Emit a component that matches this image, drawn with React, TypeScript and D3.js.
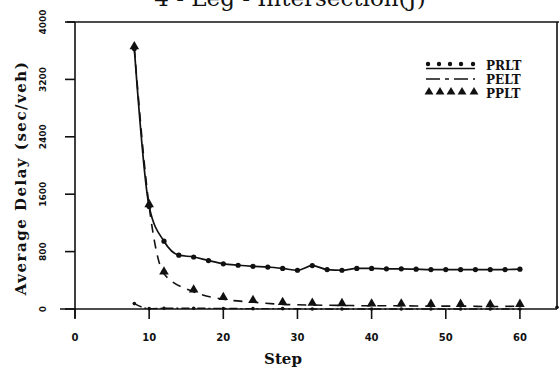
import React, { useEffect, useRef } from 'react'
import * as d3 from 'd3'

// PRLT: solid line with dots
const prltSteps = [8, 10, 12, 14, 16, 18, 20, 22, 24, 26, 28, 30, 32, 34, 36, 38, 40, 42, 44, 46, 48, 50, 52, 54, 56, 58, 60]
const prltDelay = [3630, 1430, 945, 750, 725, 675, 630, 610, 595, 585, 565, 540, 605, 550, 540, 565, 565, 560, 560, 555, 550, 550, 550, 550, 550, 550, 555]

// PELT: dash-dot line close to zero
const peltSteps = [8, 10, 12, 16, 20, 24, 28, 32, 36, 40, 44, 48, 52, 56, 60, 65]
const peltDelay = [75, 5, 10, 10, 8, 5, 5, 0, 0, 0, 0, 0, 0, 0, 0, 25]

// PPLT: dashed line with triangles
const ppltSteps = [8, 10, 12, 16, 20, 24, 28, 32, 36, 40, 44, 48, 52, 56, 60]
const ppltDelay = [3630, 1430, 490, 240, 135, 95, 65, 55, 50, 45, 45, 40, 40, 35, 40]

const xTicks = [0, 10, 20, 30, 40, 50, 60]
const yTicks = [0, 800, 1600, 2400, 3200, 4000]
const seriesNames = ['PRLT', 'PELT', 'PPLT']

const ink = '#111'

export default function App() {
  const svgRef = useRef<SVGSVGElement>(null)

  useEffect(() => {
    if (!svgRef.current) return
    const svg = d3.select(svgRef.current)
    svg.selectAll('*').remove()

    const left = 75
    const right = 557
    const top = 22
    const bottom = 309

    const x = d3.scaleLinear().domain([0, 65]).range([left, right])
    const y = d3.scaleLinear().domain([0, 4000]).range([bottom, top])

    // title (cut off at the top in the scan)
    svg
      .append('text')
      .attr('x', 290)
      .attr('y', 6)
      .attr('text-anchor', 'middle')
      .style('font-family', '"DejaVu Serif", serif')
      .style('font-size', '23px')
      .style('fill', ink)
      .text('4 - Leg - Intersection(J)')

    // frame
    svg
      .append('line')
      .attr('x1', left - 8)
      .attr('x2', 559)
      .attr('y1', top)
      .attr('y2', top)
      .attr('stroke', ink)
      .attr('stroke-width', 1.6)
    svg
      .append('line')
      .attr('x1', right)
      .attr('x2', right)
      .attr('y1', top)
      .attr('y2', bottom)
      .attr('stroke', ink)
      .attr('stroke-width', 1.6)
    svg
      .append('line')
      .attr('x1', left - 15)
      .attr('x2', right)
      .attr('y1', bottom)
      .attr('y2', bottom)
      .attr('stroke', ink)
      .attr('stroke-width', 1.6)
    svg
      .append('line')
      .attr('x1', left)
      .attr('x2', left)
      .attr('y1', top)
      .attr('y2', bottom + 9)
      .attr('stroke', ink)
      .attr('stroke-width', 1.6)

    // x ticks
    const xt = svg.append('g')
    xt.selectAll('line')
      .data(xTicks)
      .join('line')
      .attr('x1', (d) => x(d))
      .attr('x2', (d) => x(d))
      .attr('y1', bottom)
      .attr('y2', bottom + 10)
      .attr('stroke', ink)
      .attr('stroke-width', 1.6)
    xt.selectAll('text')
      .data(xTicks)
      .join('text')
      .attr('x', (d) => x(d))
      .attr('y', 341)
      .attr('text-anchor', 'middle')
      .style('font-family', '"DejaVu Sans", sans-serif')
      .style('font-weight', '700')
      .style('font-size', '10px')
      .style('fill', ink)
      .text((d) => d)

    // y ticks
    const yt = svg.append('g')
    yt.selectAll('line')
      .data(yTicks)
      .join('line')
      .attr('x1', left - 10)
      .attr('x2', left)
      .attr('y1', (d) => y(d))
      .attr('y2', (d) => y(d))
      .attr('stroke', ink)
      .attr('stroke-width', 1.6)
    yt.selectAll('text')
      .data(yTicks)
      .join('text')
      .attr('transform', (d) => `translate(46,${y(d)}) rotate(-90)`)
      .attr('text-anchor', 'middle')
      .style('font-family', '"DejaVu Sans", sans-serif')
      .style('font-weight', '700')
      .style('font-size', '9px')
      .style('fill', ink)
      .text((d) => d)

    // axis titles
    svg
      .append('text')
      .attr('transform', 'translate(26,178) rotate(-90)')
      .attr('text-anchor', 'middle')
      .style('font-family', '"DejaVu Serif", serif')
      .style('font-weight', '700')
      .style('font-size', '15px')
      .style('letter-spacing', '1.5px')
      .style('fill', ink)
      .text('Average Delay (sec/veh)')
    svg
      .append('text')
      .attr('x', 283)
      .attr('y', 364)
      .attr('text-anchor', 'middle')
      .style('font-family', '"DejaVu Serif", serif')
      .style('font-weight', '700')
      .style('font-size', '15px')
      .style('fill', ink)
      .text('Step')

    const line = d3
      .line<[number, number]>()
      .x((d) => x(d[0]))
      .y((d) => y(d[1]))
      .curve(d3.curveMonotoneX)

    const prlt = prltSteps.map((s, i) => [s, prltDelay[i]] as [number, number])
    const pelt = peltSteps.map((s, i) => [s, peltDelay[i]] as [number, number])
    const pplt = ppltSteps.map((s, i) => [s, ppltDelay[i]] as [number, number])

    const tri = d3.symbol().type(d3.symbolTriangle).size(40)
    const triSmall = d3.symbol().type(d3.symbolTriangle).size(34)

    // PPLT
    svg
      .append('path')
      .attr('d', line(pplt))
      .attr('fill', 'none')
      .attr('stroke', ink)
      .attr('stroke-width', 1.6)
      .attr('stroke-dasharray', '9,7')
    svg
      .append('g')
      .selectAll('path')
      .data(pplt)
      .join('path')
      .attr('d', tri)
      .attr('transform', (d) => `translate(${x(d[0])},${y(d[1]) - 2})`)
      .attr('fill', ink)

    // PELT
    svg
      .append('path')
      .attr('d', line(pelt.slice(0, -1)))
      .attr('fill', 'none')
      .attr('stroke', ink)
      .attr('stroke-width', 1.4)
      .attr('stroke-dasharray', '8,3,2,3')
    svg
      .append('g')
      .selectAll('circle')
      .data(pelt)
      .join('circle')
      .attr('cx', (d) => x(d[0]))
      .attr('cy', (d) => y(d[1]))
      .attr('r', 1.8)
      .attr('fill', ink)

    // PRLT
    svg
      .append('path')
      .attr('d', line(prlt))
      .attr('fill', 'none')
      .attr('stroke', ink)
      .attr('stroke-width', 1.7)
    svg
      .append('g')
      .selectAll('circle')
      .data(prlt)
      .join('circle')
      .attr('cx', (d) => x(d[0]))
      .attr('cy', (d) => y(d[1]))
      .attr('r', 2.6)
      .attr('fill', ink)

    // legend
    const lg = svg.append('g').attr('transform', 'translate(428,0)')
    const rows = [65, 79, 93]
    const dotXs = [0, 11, 22, 33, 45]
    lg.selectAll('circle.prlt')
      .data(dotXs)
      .join('circle')
      .attr('class', 'prlt')
      .attr('cx', (d) => d)
      .attr('cy', rows[0] - 1)
      .attr('r', 2.2)
      .attr('fill', ink)
    lg.append('line')
      .attr('x1', -2)
      .attr('x2', 47)
      .attr('y1', rows[0] + 3.5)
      .attr('y2', rows[0] + 3.5)
      .attr('stroke', ink)
      .attr('stroke-width', 1.6)
    lg.append('line')
      .attr('x1', -2)
      .attr('x2', 47)
      .attr('y1', rows[1])
      .attr('y2', rows[1])
      .attr('stroke', ink)
      .attr('stroke-width', 1.6)
      .attr('stroke-dasharray', '14,5,4,5')
    lg.selectAll('path.pplt')
      .data(dotXs)
      .join('path')
      .attr('class', 'pplt')
      .attr('d', triSmall)
      .attr('transform', (d) => `translate(${d + 1},${rows[2] - 1})`)
      .attr('fill', ink)
    lg.selectAll('text')
      .data(seriesNames)
      .join('text')
      .attr('x', 58)
      .attr('y', (d, i) => rows[i] + 4.5)
      .style('font-family', '"DejaVu Serif", serif')
      .style('font-weight', '700')
      .style('font-size', '12px')
      .style('fill', ink)
      .text((d) => d)
  }, [])

  return <svg ref={svgRef} width={559} height={375} style={{ position: 'absolute', left: 0, top: 0, background: '#fff' }} />
}
